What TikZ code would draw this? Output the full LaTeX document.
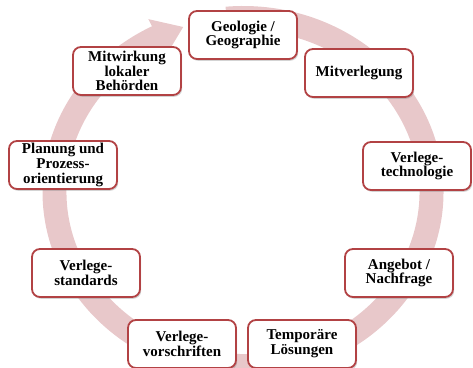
\documentclass[tikz,border=0pt]{standalone}
\usepackage{fontspec}
\setmainfont{Liberation Serif}
\usetikzlibrary{shadows}
\definecolor{ringcol}{RGB}{232,200,202}
\definecolor{boxborder}{RGB}{178,66,68}
\begin{document}
\begin{tikzpicture}[x=1pt,y=1pt,
  box/.style={draw=boxborder, line width=1.8pt, fill=white, rounded corners=8pt,
    minimum width=108pt, minimum height=48pt, align=center, inner sep=2pt,
    font=\fontsize{15}{14.8}\selectfont\bfseries,
    drop shadow={shadow xshift=1.2pt, shadow yshift=-1.8pt, opacity=0.35}}]
\useasboundingbox (0,0) rectangle (473,367);
% circular arrow ring
\begin{scope}[shift={(243,175)}]
\fill[ringcol] (95:200.5 and 186) arc[start angle=95,end angle=-243,x radius=200.5,y radius=186]
  -- (-243:208.5 and 194) -- (-251.5:188.5 and 174) -- (-243:168.5 and 154)
  -- (-243:176.5 and 162) arc[start angle=-243,end angle=95,x radius=176.5,y radius=162] -- cycle;
\end{scope}
% boxes
\node[box] (n1) at (243,332) {Geologie /\\Geographie};
\node[box] (n2) at (359,294) {Mitverlegung};
\node[box] (n3) at (417,201) {Verlege-\\technologie};
\node[box] (n4) at (399,94) {Angebot /\\Nachfrage};
\node[box] (n5) at (302,23) {Temporäre\\Lösungen};
\node[box] (n6) at (182,23) {Verlege-\\vorschriften};
\node[box] (n7) at (86,94) {Verlege-\\standards};
\node[box] (n8) at (63,202) {Planung und\\Prozess-\\orientierung};
\node[box] (n9) at (127,296) {Mitwirkung\\lokaler\\Behörden};
\end{tikzpicture}
\end{document}
